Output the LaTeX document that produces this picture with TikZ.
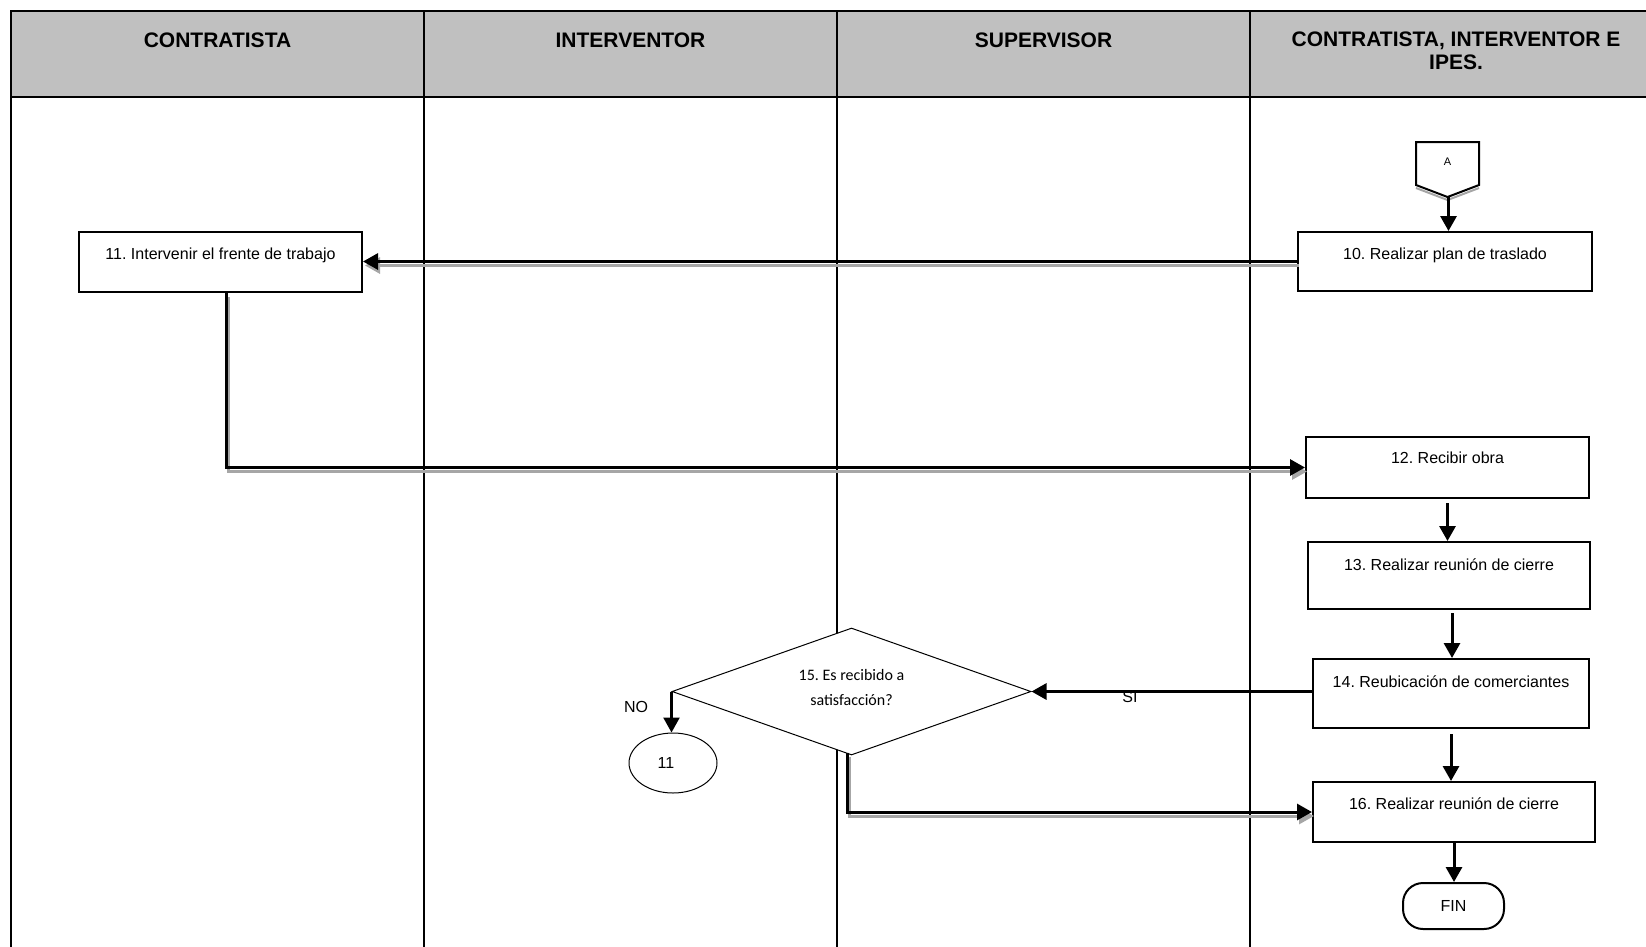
\documentclass[tikz,border=0pt]{standalone}
\usepackage{fontspec}
\setmainfont{Liberation Sans}
\newfontfamily\calib{Carlito}
\usetikzlibrary{arrows.meta,shapes.geometric,calc}
\definecolor{hdrgray}{HTML}{C0C0C0}
\definecolor{shadowgray}{HTML}{A6A6A6}
\frenchspacing
\begin{document}
\begin{tikzpicture}[x=1pt,y=-1pt,
  lane/.style={line width=2.5pt},
  hdr/.style={font=\fontsize{21pt}{23pt}\selectfont\bfseries, align=center, inner sep=0pt},
  box/.style={draw, line width=2pt, fill=white, inner xsep=0pt, inner ysep=0pt, font=\fontsize{16pt}{19pt}\selectfont},
  arr/.style={line width=3pt, -{Triangle[length=15pt,width=16pt]}},
  shd/.style={draw=shadowgray, line width=3pt, -{Triangle[length=15pt,width=16pt]}, transform canvas={xshift=2pt,yshift=-4pt}},
  lbl/.style={font=\fontsize{16pt}{19pt}\selectfont, inner sep=0pt}
]
\useasboundingbox (0,0) rectangle (1646,946);
\clip (0,0) rectangle (1646,946);
\fill[white] (0,0) rectangle (1646,946);

% header
\fill[hdrgray] (11,11) rectangle (1660,97);
\draw[lane] (1660,11) -- (11,11) -- (11,950);
\draw[lane] (11,97) -- (1660,97);
\foreach \x in {424,837,1250} \draw[lane] (\x,11) -- (\x,950);

\node[hdr] (h1) at (217.5,40) {CONTRATISTA};
\node[hdr] (h2) at (630.5,40) {INTERVENTOR};
\node[hdr] (h3) at (1043.5,40) {SUPERVISOR};
\node[hdr] (h4) at (1456,51) {CONTRATISTA, INTERVENTOR E\\IPES.};

% off-page connector A
\draw[shadowgray, line width=2pt] (1416,145) -- (1479,145) (1479,188) -- (1447.5,200) -- (1416,188);
\draw[line width=2pt, fill=white] (1416,142) -- (1479,142) -- (1479,185) -- (1447.5,197) -- (1416,185) -- cycle;
\node[font=\fontsize{11pt}{12pt}\selectfont, inner sep=0pt] (lA) at (1447.5,162) {A};
\coordinate (Atip) at (1448.5,197);

% boxes
\node[box, minimum width=294pt, minimum height=59pt, text height=27pt, text depth=32pt] (b10) at (1445,261.5) {10. Realizar plan de traslado};
\node[box, minimum width=283pt, minimum height=60pt, text height=27pt, text depth=33pt] (b11) at (220.5,262) {11. Intervenir el frente de trabajo};
\node[box, minimum width=283pt, minimum height=61pt, text height=26pt, text depth=35pt] (b12) at (1447.5,467.5) {12. Recibir obra};
\node[box, minimum width=282pt, minimum height=67pt, text height=28pt, text depth=39pt] (b13) at (1449,575.5) {13. Realizar reunión de cierre};
\node[box, minimum width=276pt, minimum height=69pt, text height=28pt, text depth=41pt] (b14) at (1451,693.5) {14. Reubicación de comerciantes};
\node[box, minimum width=282pt, minimum height=60pt, text height=27pt, text depth=33pt] (b16) at (1454,812) {16. Realizar reunión de cierre};

% decision
\node[draw, diamond, line width=1pt, fill=white, aspect=2.83, minimum width=359pt, minimum height=127pt, inner sep=0pt,
      font=\calib\fontsize{16pt}{25pt}\selectfont, align=center] (d15) at (851.5,691.5) {15. Es recibido a\\satisfacción?\rule[-8pt]{0pt}{0pt}};

\node[draw, ellipse, line width=1pt, minimum width=88pt, minimum height=60pt, inner sep=0pt, lbl] (c11) at (673,763) {\kern-14pt 11};
\node[draw, line width=2pt, rounded corners=20pt, minimum width=101pt, minimum height=46pt, inner sep=0pt, lbl] (fin) at (1453.5,906) {FIN};

\node[lbl] (no) at (636,707) {NO};
\node[lbl] (si) at (1130,697) {SI};

% connectors
\draw[arr] (Atip) -- (Atip |- b10.north);

\draw[shd] (b10.west) -- (b10.west -| b11.east);
\draw[arr] (b10.west) -- (b10.west -| b11.east);

\draw[shd] ($(b11.south)+(5.5,0)$) |- (b12.west);
\draw[arr] ($(b11.south)+(5.5,0)$) |- (b12.west);

\draw[arr, shorten <=4pt] (b12.south) -- (b12.south |- b13.north);
\draw[arr, shorten <=3pt] ($(b13.south)+(3,0)$) -- ($(b13.south |- b14.north)+(3,0)$);
\draw[arr, shorten <=5pt] (b14.south) -- (b14.south |- b16.north);
\draw[arr] (b16.south) -- (b16.south |- fin.north);

\draw[arr] (b14.west |- d15.east) -- (d15.east);
\draw[line width=2.5pt, -{Triangle[length=15pt,width=16pt]}] (d15.west) -- (d15.west |- c11.north);

\draw[shd] ($(d15.south)+(-4,-3)$) |- (b16.west);
\draw[arr] ($(d15.south)+(-4,-3)$) |- (b16.west);
\end{tikzpicture}
\end{document}
